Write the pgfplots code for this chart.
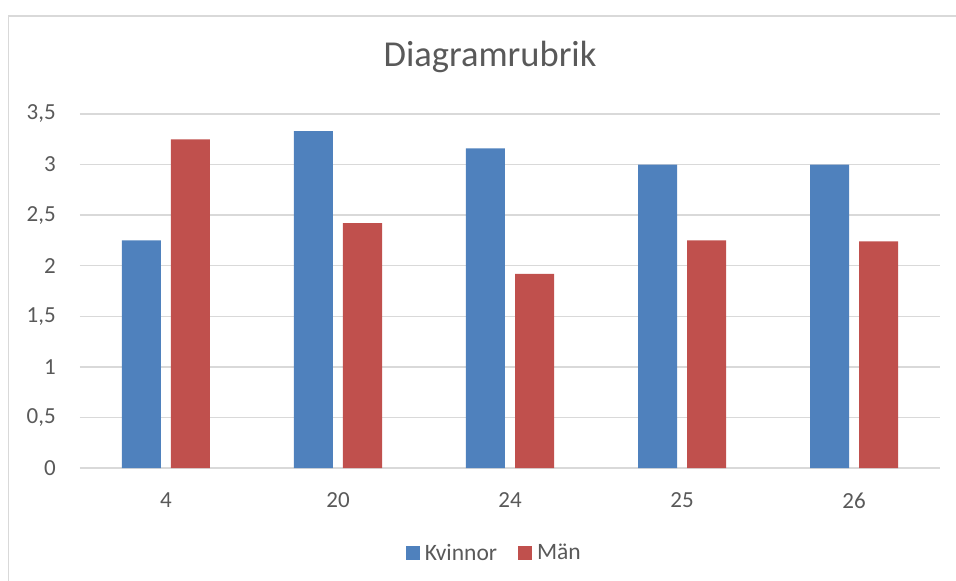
\documentclass[border=0pt]{standalone}
\usepackage{pgfplots}
\pgfplotsset{compat=1.18}
\usepackage{fontspec}
\setmainfont{Carlito}
\definecolor{txt}{HTML}{595959}
\definecolor{gridc}{HTML}{D9D9D9}
\definecolor{kv}{HTML}{4F81BD}
\definecolor{ma}{HTML}{C0504D}
\begin{document}
\begin{tikzpicture}[x=1pt,y=1pt]
\path[use as bounding box] (-80,-113) rectangle (876,468);
\draw[gridc, line width=1.5pt] (900,452) -- (-71.5,452) -- (-71.5,-140);
\begin{axis}[
  at={(0,0)}, anchor=south west,
  scale only axis, width=860pt, height=354pt,
  xmin=-0.5, xmax=4.5, ymin=0, ymax=3.5,
  ybar=10pt, bar width=39pt,
  xtick={0,1,2,3,4}, xticklabels={4,20,24,25,26},
  ytick={0,0.5,1,1.5,2,2.5,3,3.5},
  yticklabels={0,{0,5},1,{1,5},2,{2,5},3,{3,5}},
  /pgf/number format/assume math mode=true,
  axis line style={draw=none},
  major tick length=0pt,
  ymajorgrids, major grid style={gridc, line width=1.3pt},
  tick label style={font=\fontsize{23}{27}\selectfont, text=txt},
  yticklabel style={anchor=east, inner sep=0pt, xshift=-24pt},
  xticklabel style={anchor=north, inner sep=0pt, yshift=-24.5pt},
  legend style={at={(0.4835,-0.24)}, anchor=center, draw=none, fill=none,
    legend columns=2, font=\fontsize{23.5}{27}\selectfont, text=txt,
    /tikz/every even column/.append style={column sep=16pt},
    nodes={inner xsep=5pt, inner ysep=0pt}},
  legend image code/.code={\fill[#1] (0pt,-7pt) rectangle (14pt,7pt);},
  clip=false,
]
\addplot[fill=kv, draw=none] coordinates {(0,2.25) (1,3.33) (2,3.16) (3,3.0) (4,3.0)};
\addplot[fill=ma, draw=none] coordinates {(0,3.25) (1,2.42) (2,1.92) (3,2.25) (4,2.24)};
\legend{Kvinnor, Män}
\end{axis}
\node[anchor=base, text=txt, font=\fontsize{36.5}{44}\selectfont, inner sep=0pt] at (410,401.3) {Diagramrubrik};
\end{tikzpicture}
\end{document}
